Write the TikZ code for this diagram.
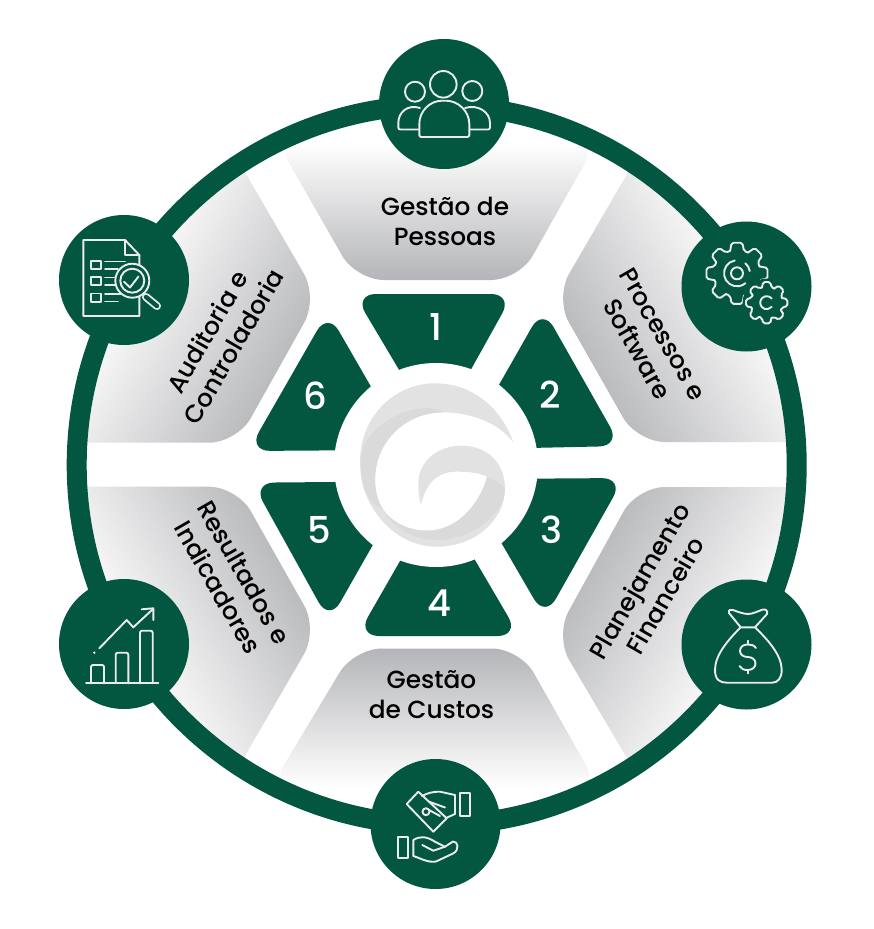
\documentclass[tikz,border=0pt]{standalone}
\usepackage{fontspec}
\setmainfont{Poppins Medium}
\definecolor{leaf}{HTML}{035741}
\definecolor{panelgray}{HTML}{B4B5B8}
\definecolor{iconline}{HTML}{EBEBEB}
\definecolor{swirl}{HTML}{E2E2E2}
\definecolor{swirldark}{HTML}{DADADA}
\pgfdeclareverticalshading{panelfade}{100bp}{color(0bp)=(panelgray); color(25bp)=(panelgray); color(74bp)=(white); color(100bp)=(white)}
\pgfdeclareverticalshading{sidefade}{100bp}{color(0bp)=(panelgray); color(25bp)=(panelgray); color(61bp)=(white); color(100bp)=(white)}
\tikzset{
  panel/.style={rounded corners=28pt,shading=panelfade},
  sidepanel/.style={rounded corners=28pt,shading=sidefade},
  block/.style={fill=leaf,rounded corners=22pt},
  badge/.style={circle,fill=leaf,minimum size=130pt,inner sep=0pt},
  digit/.style={text=white,font=\fontsize{37}{37}\selectfont},
  title/.style={align=center,text=black,font=\fontsize{24.8}{30}\selectfont},
  icon/.style={draw=iconline,line width=1.9pt,line cap=round,line join=round},
}
% one toothed wheel: x, y, outer radius, root radius
\newcommand{\wheel}[4]{
  \foreach \k in {0,45,...,315}{
    \draw[icon,rounded corners=1.8pt,shift={(#1,#2)}]
      ({\k-17}:#4) -- ({\k-10}:#3) -- ({\k+10}:#3) -- ({\k+17}:#4) -- ({\k+28}:#4);
  }
}
\begin{document}
\begin{tikzpicture}[x=1pt,y=-1pt]
    \useasboundingbox (0,0) rectangle (873,929);
    \fill[white] (0,0) rectangle (873,929);

    % grey panels
    \begin{scope}
    \clip (436.7,465) circle (352);
    \shade[panel,shading angle=0] (356,280) -- (276,140) -- (598,140) -- (519,280) -- cycle;
    \shade[sidepanel,shading angle=-60] (555,298) -- (641,150) -- (800,250) -- (830,442) -- (637,442) -- cycle;
    \shade[sidepanel,shading angle=-120] (555,636) -- (641,782) -- (800,680) -- (830,487) -- (637,487) -- cycle;
    \shade[panel,shading angle=180] (354,648.5) -- (269,790) -- (600,790) -- (520,648.5) -- cycle;
    \shade[sidepanel,shading angle=120] (237,486.7) -- (318,630) -- (231,780) -- (70,680) -- (40,486.7) -- cycle;
    \shade[sidepanel,shading angle=60] (237,442.7) -- (318,298) -- (231,148) -- (70,250) -- (40,442.7) -- cycle;
    \end{scope}

    % ring
    \draw[leaf,line width=20pt] (436.7,465) circle (360);

    % numbered blocks, their inner ends hidden by the disc
    \fill[block] (354,294) -- (513,294) -- (454,400) -- (417,400) -- cycle;
    \fill[block] (542.7,308) -- (621,446) -- (483,449) -- (483,413) -- cycle;
    \fill[block] (624,478) -- (545,618) -- (484,513) -- (484,479) -- cycle;
    \fill[block] (357,636) -- (519.5,636) -- (457.4,530) -- (417.8,530) -- cycle;
    \fill[block] (252.3,482.7) -- (391,481.5) -- (391,513) -- (329.3,621.5) -- cycle;
    \fill[block] (327.8,311.8) -- (388.3,416.7) -- (388,450) -- (248,451) -- cycle;
    \fill[white] (436,465) circle (102);

    % swirl
    \fill[swirl] (513.3,442.3) .. controls (500,405) and (470,383.3) .. (435,383.3)
      .. controls (393,383.3) and (360,418) .. (360,461.7)
      .. controls (360,508) and (395,546.7) .. (436.7,546.7)
      .. controls (475,546.7) and (505,520) .. (505,488.3)
      .. controls (505,463) and (487,445.7) .. (461.7,445.7)
      .. controls (437,445.7) and (418.3,462) .. (418.3,483.3)
      .. controls (418.3,491) and (419,498) .. (421,505)
      .. controls (425,485) and (437,471.7) .. (455,471.7)
      .. controls (466,471.7) and (478,472) .. (487.3,476.7)
      .. controls (478,508) and (455,530.7) .. (426.7,530.7)
      .. controls (408,530.7) and (392,522) .. (383.3,510)
      .. controls (378,502) and (375,491) .. (375,480)
      .. controls (375,442) and (405,412.3) .. (443.3,412.3)
      .. controls (472,412.3) and (500,424) .. (513.3,442.3) -- cycle;
    \fill[swirldark] (487.3,476.7) .. controls (478,508) and (455,530.7) .. (426.7,530.7)
      .. controls (408,530.7) and (392,522) .. (383.3,510)
      .. controls (395,530) and (415,540) .. (436.7,540)
      .. controls (470,540) and (505,515) .. (505,488.3)
      .. controls (500,483) and (494,479) .. (487.3,476.7) -- cycle;
    \fill[swirldark] (375,480) .. controls (375,442) and (405,412.3) .. (443.3,412.3)
      .. controls (425,400) and (380,415) .. (364,445)
      .. controls (361,455) and (360,470) .. (362,480)
      .. controls (364,495) and (372,505) .. (383.3,510)
      .. controls (378,502) and (375,491) .. (375,480) -- cycle;

    % badges
    \node[badge] (people) at (444,104) {};
    \node[badge] (gears) at (746.5,286.5) {};
    \node[badge] (bag) at (746.5,644.5) {};
    \node[badge] (hands) at (435.5,824) {};
    \node[badge] (chart) at (124,644) {};
    \node[badge] (audit) at (124,280) {};

    % people
    \draw[icon] (443.3,84.3) circle (13.3);
    \draw[icon] (415,91.7) circle (10);
    \draw[icon] (472.3,91) circle (10);
    \draw[icon,rounded corners=2pt] (419.3,137) -- (419.3,126) .. controls (419.3,111) and (430,100.7) .. (444,100.7)
      .. controls (458,100.7) and (469.3,111) .. (469.3,126) -- (469.3,137) -- cycle;
    \draw[icon,rounded corners=2pt] (420,108) .. controls (408,104) and (398.3,112) .. (398.3,125) -- (398.3,129.5) -- (419,129.5);
    \draw[icon,rounded corners=2pt] (465,108) .. controls (478,104) and (490,112) .. (490,125) -- (490,129.5) -- (469.5,129.5);

    % gears
    \wheel{737}{273.3}{31}{23.5}
    \draw[icon] (737,273.3) circle (6);
    \draw[icon] (737,273.3) ++(-100:13) arc[start angle=-100,end angle=-310,radius=13];
    \draw[icon] (737,273.3) ++(-10:13) arc[start angle=-10,end angle=-50,radius=13];
    \fill[leaf] (766.7,302.7) circle (24);
    \wheel{766.7}{302.7}{21}{16}
    \draw[icon] (766.7,302.7) ++(-40:6.5) arc[start angle=-40,end angle=-320,radius=6.5];

    % money bag
    \draw[icon] (740.7,627.3) .. controls (728,640) and (715,655) .. (715,670)
      .. controls (715,680) and (720,682.7) .. (727,682.7) -- (772,682.7)
      .. controls (778,682.7) and (781.7,678) .. (781.7,670)
      .. controls (781.7,655) and (768,640) .. (755,627.3) -- cycle;
    \draw[icon] (740.7,627.3) -- (729,613) .. controls (728,610) and (731,609) .. (733,610)
      .. controls (738,612) and (744,614) .. (748.3,614)
      .. controls (753,614) and (758,611) .. (763,609.5)
      .. controls (766,609) and (768,611) .. (767,614) -- (755,627.3);
    \draw[icon] (756,648) .. controls (754,645) and (751,644.5) .. (747.7,644.5)
      .. controls (743,644.5) and (740,647) .. (740,651)
      .. controls (740,655) and (744,657) .. (747.7,657)
      .. controls (752,657) and (755.5,659.5) .. (755.5,663.5)
      .. controls (755.5,667.5) and (752,670) .. (747.7,670)
      .. controls (744,670) and (741,669) .. (739.5,666);
    \draw[icon] (747.7,640.7) -- (747.7,644.5);
    \draw[icon] (747.7,670) -- (747.7,673.5);

    % hands and banknote
    \draw[icon] (460,793.3) rectangle (470,816);
    \draw[icon] (455,795) -- (440,791.7) .. controls (432,791.7) and (428,793) .. (422,796);
    \draw[icon] (455,795) -- (455,814) -- (446,818);
    \draw[icon] (418.3,791.7) -- (406.7,804) -- (433.3,831.7) -- (446.7,818.3) -- cycle;
    \draw[icon] (426,811.7) circle (3.5);
    \draw[icon] (430,802) -- (445,807.5);
    \draw[icon] (429,810) -- (440,816);
    \draw[icon] (398.3,837.3) rectangle (408.3,858.3);
    \draw[icon] (413.3,840) -- (413.3,856) .. controls (420,858) and (428,863) .. (436,861.5)
      -- (453,853.5) .. controls (460,850) and (458,841) .. (453,841.5)
      -- (445,846.7) -- (435,841.7) .. controls (426,836) and (420,836) .. (413.3,840);
    \draw[icon] (422.3,845) -- (433.3,850.7) -- (445,846.7);

    % report under a magnifier
    \draw[icon] (125,240) -- (83.3,240) -- (83.3,316) -- (139.3,316) -- (139.3,255) -- cycle;
    \draw[icon] (125,240) -- (125,255) -- (139.3,255);
    \foreach \y in {261,277,293.5}{
      \draw[icon] (91,\y) rectangle (100.7,\y+8.3);
      \draw[icon] (105,\y+.5) -- (125,\y+.5);
      \draw[icon] (105,\y+8) -- (118,\y+8);
    }
    \fill[leaf] (132.3,280.7) circle (17);
    \draw[icon] (132.3,280.7) circle (17);
    \draw[icon] (132.3,280.7) circle (12);
    \draw[icon] (124,281.7) -- (130,287.5) -- (138.5,276.5);
    \draw[iconline,line width=8pt,line cap=round] (146,297) -- (157,306);
    \draw[leaf,line width=4.4pt,line cap=round] (146,297) -- (157,306);

    % bar chart
    \draw[icon] (86,683.3) -- (158.3,683.3);
    \draw[icon,rounded corners=2pt] (91,683.3) -- (91,665) -- (104,665) -- (104,683.3);
    \draw[icon,rounded corners=2pt] (115.7,683.3) -- (115.7,652.7) -- (128.3,652.7) -- (128.3,683.3);
    \draw[icon,rounded corners=2pt] (140,683.3) -- (140,630.7) -- (152.7,630.7) -- (152.7,683.3);
    \draw[icon] (99.3,648.3) -- (126.7,620) -- (133.3,627.3) -- (152.7,609.3);
    \draw[icon] (141.7,609.3) -- (153.3,608.3) -- (153.3,620);
    \fill[iconline] (94.3,652.7) circle (1.3);

    % numbers
    \node[digit] (one) at (435.5,326.7) {1};
    \node[digit] (two) at (550,395) {2};
    \node[digit] (three) at (551.7,530) {3};
    \node[digit] (four) at (439.3,603.3) {4};
    \node[digit] (five) at (319,530) {5};
    \node[digit] (six) at (315,396) {6};

    % panel titles
    \node[title] (staff) at (445,221) {Gestão de\\Pessoas};
    \node[title,rotate=-60] (process) at (650,342) {Processos e\\Software};
    \node[title,rotate=60] (planning) at (652,588) {Planejamento\\Financeiro};
    \node[title] (costs) at (431.5,695) {Gestão\\de Custos};
    \node[title,rotate=-60] (results) at (231,580) {Resultados e\\Indicadores};
    \node[title,rotate=60] (control) at (220,339) {Auditoria e\\Controladoria};
\end{tikzpicture}
\end{document}
